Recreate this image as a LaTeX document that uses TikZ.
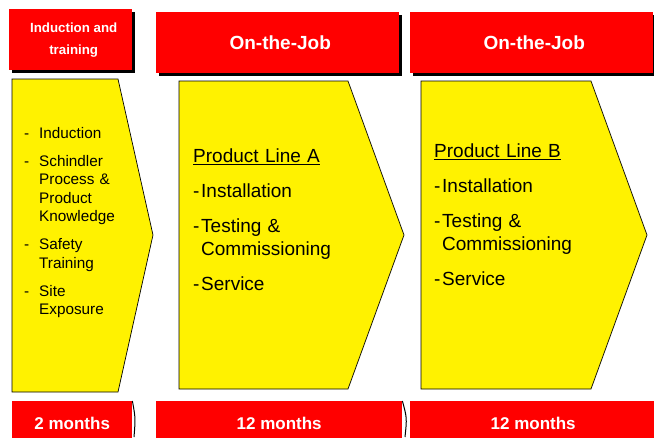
\documentclass[tikz,border=0pt]{standalone}
\usepackage{fontspec}
\setmainfont{Liberation Sans}
\usetikzlibrary{shadows}

\tikzset{
  redbox/.style={fill=red, text=white, font=\bfseries, inner sep=0pt, anchor=north west},
  headbox/.style={redbox, minimum height=61pt, drop shadow={shadow xshift=2.5pt, shadow yshift=-2.5pt, fill=black, opacity=1}},
  chevron/.style={draw=black, fill=yellow, line width=0.7pt},
  itemtext/.style={inner sep=0pt, anchor=north west, align=left}
}
\newcommand{\listentry}[2]{\noindent\hangindent=#1\hangafter=1\makebox[#1][l]{-}#2\par}

\begin{document}
\begin{tikzpicture}[x=1pt, y=-1pt]
    \useasboundingbox (0,0) rectangle (654,437);
    \clip (0,0) rectangle (654,437);
    % Draw header boxes
    \node [headbox, minimum width=123pt, font=\bfseries\fontsize{13.3}{22}\selectfont, align=center] (induct) at (9,9) {\hspace*{6pt}Induction and\\\hspace*{6pt}training};
    \node [headbox, minimum width=243pt, font=\bfseries\fontsize{19}{22}\selectfont] (jobA) at (156,12) {\hspace*{5pt}On-the-Job};
    \node [headbox, minimum width=243pt, font=\bfseries\fontsize{19}{22}\selectfont] (jobB) at (410,12) {\hspace*{5pt}On-the-Job};
    % Draw chevrons
    \draw [chevron] (12,79) -- (118,79) -- (153,235) -- (118,392) -- (12,392) -- cycle; % induction
    \draw [chevron] (179,81) -- (348,81) -- (404,235) -- (348,389) -- (179,389) -- cycle; % product line A
    \draw [chevron] (421,81) -- (591,81) -- (647,235) -- (591,389) -- (421,389) -- cycle; % product line B
    % Draw chevron texts
    \node [itemtext, text width=110pt, font=\fontsize{15.3}{18.5}\selectfont] (listI) at (24,127) {%
      \setlength{\parskip}{9.5pt}%
      \listentry{15pt}{Induction}%
      \listentry{15pt}{Schindler\newline Process \&\newline Product\newline Knowledge}%
      \listentry{15pt}{Safety\newline Training}%
      \listentry{15pt}{Site\newline Exposure}};
    \node [itemtext, text width=200pt, font=\fontsize{19}{23}\selectfont] (listA) at (193,149) {%
      \setlength{\parskip}{12pt}%
      \noindent\underline{Product Line A}\par
      \listentry{8pt}{Installation}%
      \listentry{8pt}{Testing \&\newline Commissioning}%
      \listentry{8pt}{Service}};
    \node [itemtext, text width=200pt, font=\fontsize{19}{23}\selectfont] (listB) at (434,144) {%
      \setlength{\parskip}{12pt}%
      \noindent\underline{Product Line B}\par
      \listentry{8pt}{Installation}%
      \listentry{8pt}{Testing \&\newline Commissioning}%
      \listentry{8pt}{Service}};
    % Draw duration boxes
    \node [redbox, minimum width=120pt, minimum height=44pt, font=\bfseries\fontsize{17}{20}\selectfont] (timeI) at (12,401) {2 months};
    \node [redbox, minimum width=246pt, minimum height=44pt, font=\bfseries\fontsize{17}{20}\selectfont] (timeA) at (156,401) {12 months};
    \node [redbox, minimum width=246pt, minimum height=44pt, font=\bfseries\fontsize{17}{20}\selectfont] (timeB) at (410,401) {12 months};
    \draw [line width=1pt] (timeI.north east) .. controls (135.5,418) .. (134,437); % edge shadow
    \draw [line width=1pt] (timeA.north east) .. controls (407,418) .. (405,437); % edge shadow
\end{tikzpicture}
\end{document}
